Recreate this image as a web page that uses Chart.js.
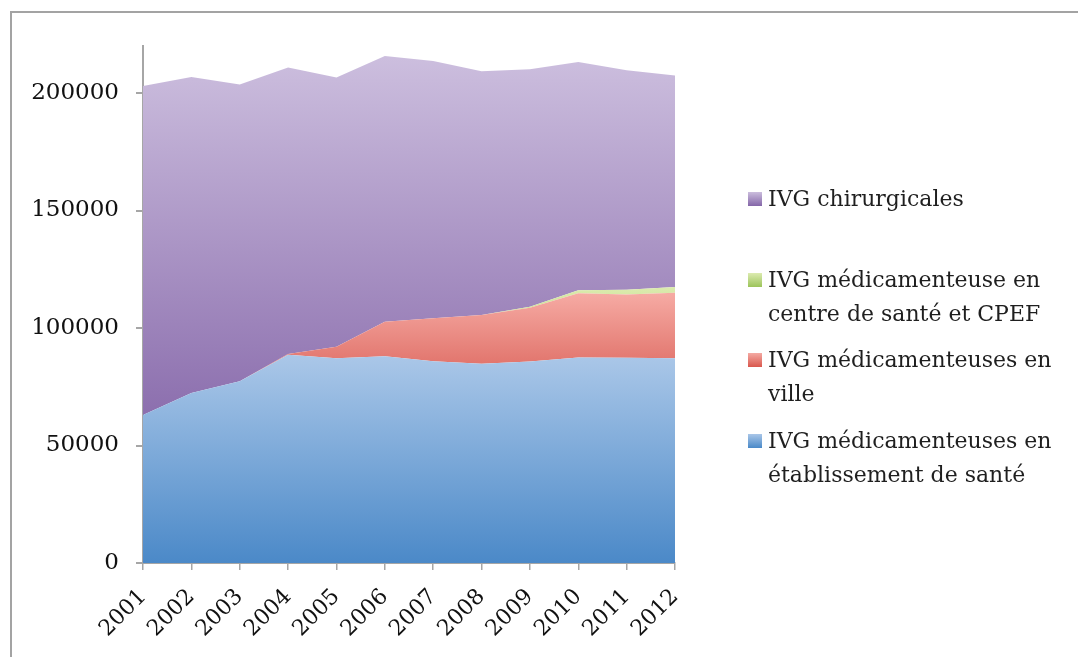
<!DOCTYPE html>
<html lang="fr">
<head>
<meta charset="utf-8">
<title>IVG 2001-2012</title>
<script src="https://cdn.jsdelivr.net/npm/chart.js@4/dist/chart.umd.min.js"></script>
<style>
    html, body { margin: 0; padding: 0; background: #fff; overflow: hidden; }
    #wrap { position: relative; width: 1078px; height: 657px; }
    #frame { position: absolute; left: 10px; top: 11px; width: 1200px; height: 800px;
             border-top: 2px solid #a3a3a3; border-left: 2px solid #a3a3a3; }
    #chart { position: absolute; left: 0; top: 0; }
    #legend { position: absolute; left: 748px; top: 182px; font-family: "DejaVu Serif", serif;
              font-size: 22px; color: #1f1f1f; line-height: 34px; }
    .item { position: relative; padding-left: 20px; }
    .swatch { position: absolute; left: 0; top: 10px; width: 14px; height: 14px; }
</style>
</head>
<body>
<div id="wrap">
    <div id="frame"></div>
    <canvas id="chart" width="1078" height="657"></canvas>
    <div id="legend"></div>
</div>
<script>
// Data
const years = ['2001', '2002', '2003', '2004', '2005', '2006', '2007', '2008', '2009', '2010', '2011', '2012'];
const etablissement = [63000, 72300, 77300, 88600, 87100, 88000, 85900, 84800, 85700, 87500, 87300, 87100];
const ville = [0, 0, 0, 300, 4900, 14700, 18200, 20700, 22900, 27300, 27000, 27900];
const centreSante = [0, 0, 0, 0, 0, 0, 0, 0, 400, 1300, 2000, 2400];
const chirurgicales = [140000, 134500, 126300, 122000, 114600, 113000, 109500, 103800, 101100, 97100, 93400, 90100];

const yTicks = [0, 50000, 100000, 150000, 200000];

// vertical gradient between two data values
function vGrad(context, top, bottom, c1, c2) {
    const chart = context.chart;
    if (!chart.chartArea) return c2;
    const y = chart.scales.y;
    const g = chart.ctx.createLinearGradient(0, y.getPixelForValue(top), 0, y.getPixelForValue(bottom));
    g.addColorStop(0, c1);
    g.addColorStop(1, c2);
    return g;
}

const series = [
    { label: 'IVG médicamenteuses en établissement de santé', data: etablissement, fill: 'origin',
      bg: ctx => vGrad(ctx, 88000, 0, '#aac7e8', '#4b89c8'), swatch: 'linear-gradient(#a9c6e8, #4a89c8)' },
    { label: 'IVG médicamenteuses en ville', data: ville, fill: '-1',
      bg: ctx => vGrad(ctx, 115000, 85000, '#f6aba4', '#e2766e'), swatch: 'linear-gradient(#f4aaa3, #d9574d)' },
    { label: 'IVG médicamenteuse en centre de santé et CPEF', data: centreSante, fill: '-1',
      bg: ctx => vGrad(ctx, 118000, 108000, '#dcebb0', '#cfe39a'), swatch: 'linear-gradient(#dcebb0, #9cc45a)' },
    { label: 'IVG chirurgicales', data: chirurgicales, fill: '-1',
      bg: ctx => vGrad(ctx, 215000, 63000, '#ccbede', '#8c6fae'), swatch: 'linear-gradient(#cbbddd, #8466a8)' }
];

new Chart(document.getElementById('chart'), {
    type: 'line',
    data: {
        labels: years,
        datasets: series.map(s => ({
            label: s.label,
            data: s.data,
            fill: s.fill,
            backgroundColor: s.bg,
            borderWidth: 0,
            pointRadius: 0,
            tension: 0
        }))
    },
    options: {
        responsive: false,
        animation: false,
        layout: { padding: { left: 10, right: 403, top: 46, bottom: 10 } },
        scales: {
            x: {
                offset: false,
                grid: { drawOnChartArea: false, tickLength: 7, color: '#a6a6a6', lineWidth: 1.5 },
                border: { color: '#a6a6a6', width: 2 },
                ticks: {
                    color: '#111',
                    font: { family: 'DejaVu Serif', size: 22 },
                    minRotation: 45, maxRotation: 45, padding: 14
                },
                afterFit: s => { s.height = 84; }
            },
            y: {
                stacked: true,
                min: 0,
                max: 220000,
                grid: { drawOnChartArea: false, tickLength: 7, color: '#a6a6a6', lineWidth: 2 },
                border: { color: '#a6a6a6', width: 2 },
                afterBuildTicks: s => { s.ticks = yTicks.map(v => ({ value: v })); },
                ticks: {
                    color: '#111',
                    font: { family: 'DejaVu Serif', size: 23 },
                    padding: 17,
                    callback: v => String(v)
                },
                afterFit: s => { s.width = 133; }
            }
        },
        plugins: {
            legend: { display: false },
            tooltip: { enabled: false }
        }
    }
});

// legend on the right, drawn top-down in reverse stacking order
const legendEl = document.getElementById('legend');
const legendText = [
    ['IVG chirurgicales'],
    ['IVG médicamenteuse en', 'centre de santé et CPEF'],
    ['IVG médicamenteuses en', 'ville'],
    ['IVG médicamenteuses en', 'établissement de santé']
];
const gaps = [0, 47, 12, 13];
series.slice().reverse().forEach((s, i) => {
    const div = document.createElement('div');
    div.className = 'item';
    div.style.marginTop = gaps[i] + 'px';
    const sw = document.createElement('span');
    sw.className = 'swatch';
    sw.style.background = s.swatch;
    div.appendChild(sw);
    div.insertAdjacentHTML('beforeend', legendText[i].join('<br>'));
    legendEl.appendChild(div);
});
</script>
</body>
</html>
